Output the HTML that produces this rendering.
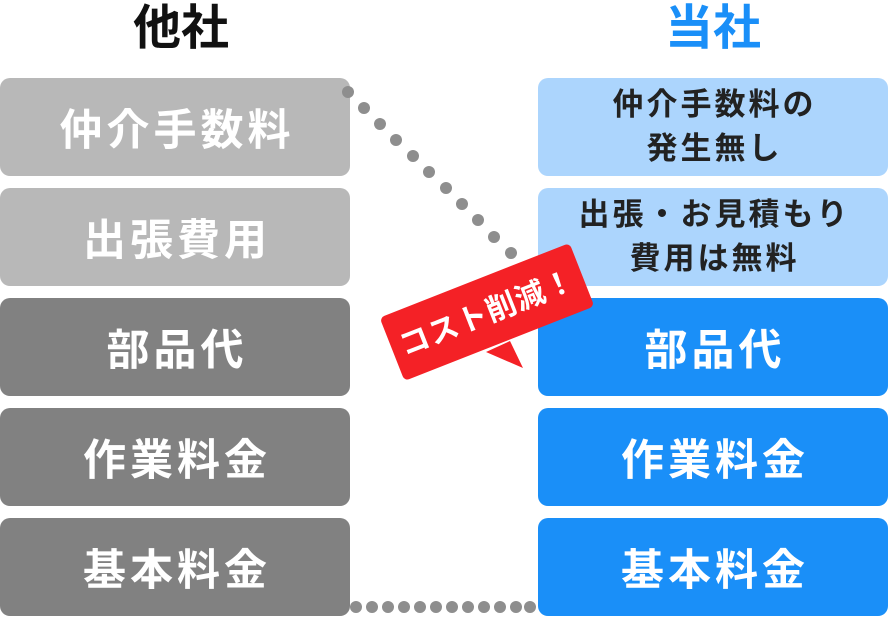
<!DOCTYPE html>
<html><head><meta charset="utf-8"><style>
body{margin:0;width:888px;height:617px;position:relative;background:#fff;overflow:hidden;font-family:"Liberation Sans","Noto Sans CJK JP",sans-serif;font-weight:bold}
.t{position:absolute;top:0;font-size:48px;line-height:58px;width:350px;text-align:center}
.b{position:absolute;width:350px;height:98px;border-radius:10px;display:flex;align-items:center;justify-content:center;text-align:center;color:#fff;font-size:43px;letter-spacing:4px;padding-left:4px;box-sizing:border-box}
.s{font-size:31px;line-height:44px;color:#222;letter-spacing:3px;padding-left:3px}
</style></head><body>
<div class="t" style="left:6px;color:#111">他社</div>
<div class="t" style="left:538px;color:#1a8ff8">当社</div>
<div class="b" style="left:0;top:78px;background:#b8b8b8">仲介手数料</div>
<div class="b" style="left:0;top:188px;background:#b8b8b8">出張費用</div>
<div class="b" style="left:0;top:298px;background:#818181">部品代</div>
<div class="b" style="left:0;top:408px;background:#818181">作業料金</div>
<div class="b" style="left:0;top:518px;background:#818181">基本料金</div>
<div class="b s" style="left:538px;top:78px;background:#acd5fd">仲介手数料の<br>発生無し</div>
<div class="b s" style="left:538px;top:188px;background:#acd5fd">出張・お見積もり<br>費用は無料</div>
<div class="b" style="left:538px;top:298px;background:#1a8ff8">部品代</div>
<div class="b" style="left:538px;top:408px;background:#1a8ff8">作業料金</div>
<div class="b" style="left:538px;top:518px;background:#1a8ff8">基本料金</div>
<svg width="888" height="617" style="position:absolute;left:0;top:0">
<g fill="#8e8e8e">
<circle cx="348" cy="92" r="6"/><circle cx="364" cy="108" r="6"/><circle cx="380" cy="124" r="6"/><circle cx="396" cy="140" r="6"/><circle cx="413" cy="156" r="6"/><circle cx="429" cy="172" r="6"/><circle cx="446" cy="188" r="6"/><circle cx="462" cy="204" r="6"/><circle cx="478" cy="220" r="6"/><circle cx="494" cy="237" r="6"/><circle cx="511" cy="253" r="6"/>
<circle cx="356" cy="607" r="6"/><circle cx="372" cy="607" r="6"/><circle cx="388" cy="607" r="6"/><circle cx="404" cy="607" r="6"/><circle cx="420" cy="607" r="6"/><circle cx="436" cy="607" r="6"/><circle cx="452" cy="607" r="6"/><circle cx="468" cy="607" r="6"/><circle cx="484" cy="607" r="6"/><circle cx="500" cy="607" r="6"/><circle cx="516" cy="607" r="6"/><circle cx="530" cy="607" r="6"/>
</g>
<polygon points="486,352 510,341 523,368" fill="#f42126"/>
<g transform="translate(487,312) rotate(-21.5)">
<rect x="-102" y="-34" width="204" height="68" rx="5" fill="#f42126"/>
<text x="0" y="11" text-anchor="middle" fill="#fff" font-size="30" font-weight="bold" letter-spacing="1" font-family="Liberation Sans, Noto Sans CJK JP, sans-serif">コスト削減！</text>
</g>
</svg>
</body></html>
